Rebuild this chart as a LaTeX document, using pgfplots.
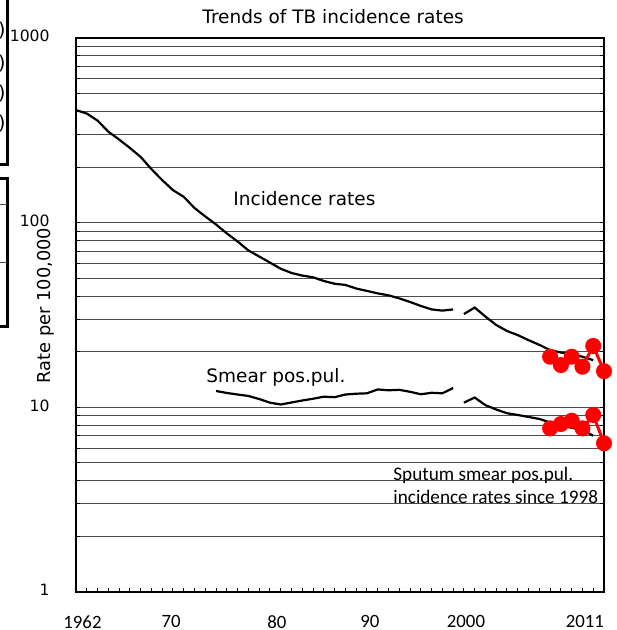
\documentclass[border=0pt]{standalone}
\usepackage{fontspec}
\usepackage{pgfplots}
\pgfplotsset{compat=1.18}
\newfontfamily\tf{DejaVu Sans}
\newfontfamily\cf{Carlito}

\begin{document}
\begin{tikzpicture}
\begin{axis}[
  at={(0,0)}, anchor=south west,
  scale only axis, width=264pt, height=277pt,
  xmin=1962, xmax=2011, ymode=log, ymin=1, ymax=1000,
  xtick={1962.6,1970.82,1980.65,1989.28,1998.19,2009.23},
  xticklabels={1962,70,80,90,2000,2011},
  minor xtick={1963,...,2010},
  xtick pos=left,
  ytick={1,10,100,1000},
  yticklabels={1,10,100,1000},
  major tick length=0pt, minor tick length=2pt,
  tick align=inside,
  tick style={black, line width=0.5pt},
  ymajorgrids, yminorgrids,
  major grid style={black!70, line width=0.5pt},
  minor grid style={black!70, line width=0.5pt},
  axis line style={black, line width=0.8pt},
  xticklabel style={font=\cf\fontsize{9.4}{10}\selectfont, anchor=north, inner sep=0pt, yshift=-11.5pt},
  yticklabel style={font=\tf\fontsize{7.8}{9}\selectfont, anchor=east, inner sep=0pt, xshift=-13pt, yshift=1pt},
  clip=false,
]
% Incidence rates, up to 1997
\addplot[black, line width=1.1pt] coordinates {
(1962,407) (1963,390) (1964,357) (1965,311) (1966,282) (1967,254) (1968,227)
(1969,195) (1970,170) (1971,150) (1972,138) (1973,120) (1974,108) (1975,97.7)
(1976,87.4) (1977,79.1) (1978,70.7) (1979,65.6) (1980,60.8) (1981,56.3)
(1982,53.4) (1983,51.7) (1984,50.6) (1985,48.3) (1986,46.7) (1987,46.0)
(1988,44.0) (1989,42.7) (1990,41.4) (1991,40.4) (1992,38.9) (1993,37.2)
(1994,35.4) (1995,33.9) (1996,33.4) (1997,33.9)};
% Incidence rates, from 1998
\addplot[black, line width=1.1pt] coordinates {
(1998,32.0) (1999,34.7) (2000,31.0) (2001,27.9) (2002,25.9) (2003,24.6)
(2004,23.1) (2005,21.8) (2006,20.4) (2007,19.8) (2008,19.4) (2009,18.8) (2010,18.0)};
% Smear pos. pul., up to 1997
\addplot[black, line width=1.1pt] coordinates {
(1975,12.26) (1976,11.96) (1977,11.73) (1978,11.52) (1979,11.09) (1980,10.6)
(1981,10.36) (1982,10.62) (1983,10.89) (1984,11.13) (1985,11.42) (1986,11.35)
(1987,11.73) (1988,11.85) (1989,11.91) (1990,12.5) (1991,12.37) (1992,12.44)
(1993,12.14) (1994,11.77) (1995,11.99) (1996,11.91) (1997,12.72)};
% Smear pos. pul., from 1998
\addplot[black, line width=1.1pt] coordinates {
(1998,10.6) (1999,11.3) (2000,10.27) (2001,9.73) (2002,9.29) (2003,9.09)
(2004,8.87) (2005,8.65) (2006,8.28) (2007,7.94) (2008,7.76) (2009,7.54) (2010,7.02)};
% Red series
\addplot[red, line width=1.5pt, mark=*, mark size=3.25pt, mark options={fill=red, draw=red}] coordinates {
(2006,18.8) (2007,16.95) (2008,18.8) (2009,16.6) (2010,21.5) (2011,15.7)};
\addplot[red, line width=1.5pt, mark=*, mark size=3.25pt, mark options={fill=red, draw=red}] coordinates {
(2006,7.70) (2007,8.12) (2008,8.46) (2009,7.70) (2010,9.09) (2011,6.39)};
\end{axis}
\pgfresetboundingbox
\begin{scope}[shift={(-38pt,296pt)}, x=0.5pt, y=-0.5pt]
\useasboundingbox (0,0) rectangle (616,630);
\node[anchor=base west, inner sep=0pt, font=\tf\fontsize{9.25}{11}\selectfont] at (202,24) {Trends of TB incidence rates};
\node[anchor=base west, inner sep=0pt, font=\tf\fontsize{9.25}{11}\selectfont] at (233,205.7) {Incidence rates};
\node[anchor=base west, inner sep=0pt, font=\tf\fontsize{9.25}{11}\selectfont] at (206,383) {Smear pos.pul.};
\node[rotate=90, anchor=base, inner sep=0pt, font=\tf\fontsize{8.9}{10}\selectfont] at (50.5,305.5) {Rate per 100,000};
\node[anchor=base west, inner sep=0pt, font=\cf\fontsize{9.6}{11}\selectfont] at (393,481) {Sputum smear pos.pul.};
\node[anchor=base west, inner sep=0pt, font=\cf\fontsize{9.6}{11}\selectfont] at (393,504) {incidence rates since 1998};
% cropped boxes at the left edge
\draw[black, line width=1.5pt] (-20,164.5) -- (7.5,164.5) -- (7.5,-20);
\draw[black, line width=1.5pt] (-20,178.3) -- (7.5,178.3) -- (7.5,326.7) -- (-20,326.7);
\draw[black!70, line width=0.5pt] (-20,205) -- (7.5,205);
\draw[black!70, line width=0.5pt] (-20,262.3) -- (7.5,262.3);
\foreach \yy in {31,63.5,93.5,123.5}
  \node[anchor=east, inner sep=0pt, font=\tf\fontsize{9.5}{10}\selectfont] at (6,\yy) {)};
\end{scope}
\end{tikzpicture}
\end{document}
